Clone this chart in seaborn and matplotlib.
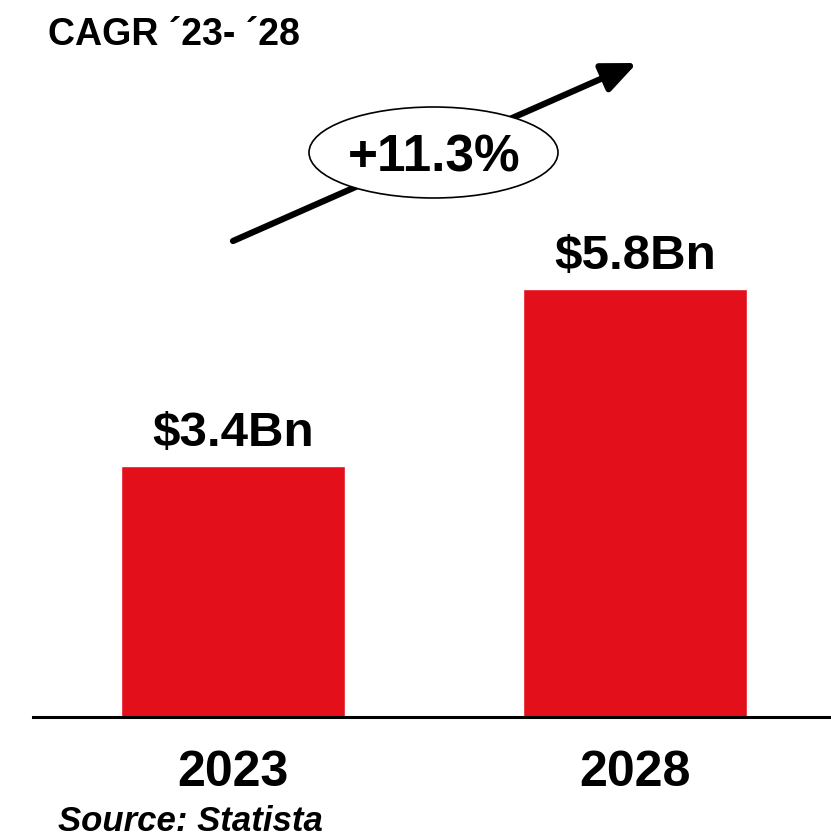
import matplotlib
matplotlib.use("Agg")
import matplotlib.pyplot as plt
from matplotlib.patches import Ellipse, FancyArrowPatch
import seaborn as sns
import pandas as pd

# Market size in USD billions
years = ["2023", "2028"]
values = [3.4, 5.8]
value_labels = ["$3.4Bn", "$5.8Bn"]
cagr_label = "+11.3%"
cagr_title = "CAGR \u00b423- \u00b428"
source_note = "Source: Statista"

BAR_RED = "#E3101C"

sns.set_theme(style="white")
plt.rcParams["font.family"] = ["Liberation Sans", "DejaVu Sans"]
plt.rcParams["text.color"] = "black"
plt.rcParams["xtick.color"] = "black"

W, H = 831, 839
fig = plt.figure(figsize=(W / 100, H / 100), dpi=100)

# Axes: baseline at y=717 px, spanning from x=33 px to the right edge
ax = fig.add_axes([33 / W, (H - 717) / H, 1 - 33 / W, 717 / H])

df = pd.DataFrame({"year": years, "value": values})
sns.barplot(data=df, x="year", y="value", color=BAR_RED, saturation=1,
            width=0.557, ax=ax)

ax.set_xlim(-0.4975, 1.4876)
ax.set_ylim(0, 9.71)

for spine in ["top", "right", "left"]:
    ax.spines[spine].set_visible(False)
ax.spines["bottom"].set_color("black")
ax.spines["bottom"].set_linewidth(2.2)
ax.set_yticks([])
ax.set_xlabel("")
ax.set_ylabel("")
ax.tick_params(axis="x", length=0, pad=23.5, colors="black")
for lbl in ax.get_xticklabels():
    lbl.set_fontsize(36)
    lbl.set_fontweight("bold")
    lbl.set_color("black")

# Value labels above bars
for i, (v, txt) in enumerate(zip(values, value_labels)):
    ax.annotate(txt, xy=(i, v), xytext=(0, 14.5), textcoords="offset points",
                ha="center", va="baseline", fontsize=35.5, fontweight="bold",
                color="black")

# Growth arrow with CAGR ellipse
def fx(px):
    return px / W

def fy(py):
    return 1 - py / H

fig.add_artist(FancyArrowPatch(
    (fx(233), fy(241)), (fx(637), fy(63)), transform=fig.transFigure,
    arrowstyle="-|>,head_length=1.15,head_width=0.5", mutation_scale=18,
    linewidth=4.5, color="black", shrinkA=0, shrinkB=0))

ell = Ellipse((fx(433.5), fy(152.5)), width=249 / W, height=91 / H,
              transform=fig.transFigure, facecolor="white",
              edgecolor="black", linewidth=1.2, zorder=5)
fig.add_artist(ell)
fig.text(fx(434), fy(172), cagr_label, ha="center", va="baseline",
         fontsize=37, fontweight="bold", color="black", zorder=6)

fig.text(fx(48), fy(45), cagr_title, ha="left", va="baseline",
         fontsize=27, fontweight="bold", color="black")
fig.text(fx(58), fy(831), source_note, ha="left", va="baseline",
         fontsize=25, fontweight="bold", fontstyle="italic", color="black")

fig.savefig("out.png", dpi=100, facecolor="white")
